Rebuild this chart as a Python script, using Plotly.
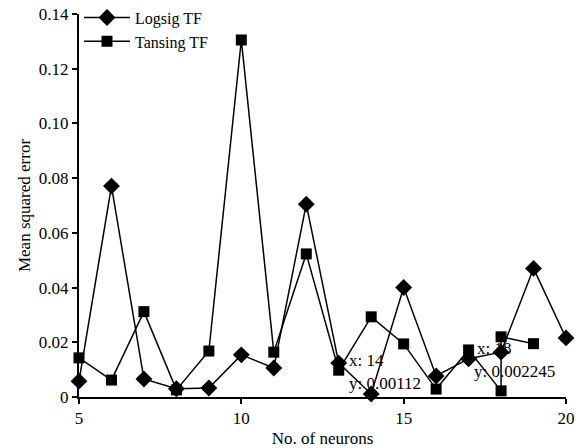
import plotly.graph_objects as go

neurons_logsig = [5, 6, 7, 8, 9, 10, 11, 12, 13, 14, 15, 16, 17, 18, 19, 20]
mse_logsig = [0.0058, 0.0771, 0.0066, 0.0030, 0.0033, 0.0154, 0.0106, 0.0705,
              0.0124, 0.00112, 0.0400, 0.0077, 0.0140, 0.0164, 0.0470, 0.0216]

neurons_tansing = [5, 6, 7, 8, 9, 10, 11, 12, 13, 14, 15, 16, 17, 18, 18, 19]
mse_tansing = [0.0143, 0.0062, 0.0312, 0.0026, 0.0168, 0.1305, 0.0164, 0.0523,
               0.0098, 0.0293, 0.0194, 0.0029, 0.0172, 0.002245, 0.0220, 0.0195]

y_ticks = [0, 0.02, 0.04, 0.06, 0.08, 0.10, 0.12, 0.14]
y_ticktext = ["0", "0.02", "0.04", "0.06", "0.08", "0.10", "0.12", "0.14"]
x_ticks = [5, 10, 15, 20]

font_family = "Liberation Serif"

fig = go.Figure()
fig.add_trace(go.Scatter(
    x=neurons_logsig, y=mse_logsig, mode="lines+markers", name="Logsig TF",
    line=dict(color="black", width=1.5),
    marker=dict(symbol="diamond", size=13, color="black"),
    cliponaxis=False,
))
fig.add_trace(go.Scatter(
    x=neurons_tansing, y=mse_tansing, mode="lines+markers", name="Tansing TF",
    line=dict(color="black", width=1.5),
    marker=dict(symbol="square", size=11, color="black"),
    cliponaxis=False,
))

annots = [
    dict(x=14, y=0.0132, text="x: 14", shift=-24),
    dict(x=14, y=0.0051, text="y: 0.00112", shift=-24),
    dict(x=18, y=0.0179, text="x: 18", shift=-26),
    dict(x=18, y=0.0095, text="y: 0.002245", shift=-29),
]
for a in annots:
    fig.add_annotation(x=a["x"], y=a["y"], text=a["text"], showarrow=False,
                       xanchor="left", yanchor="middle", xshift=a["shift"],
                       font=dict(family=font_family, size=17, color="black"))

fig.update_layout(
    width=581, height=448,
    margin=dict(l=79, r=15, t=14, b=51, autoexpand=False),
    plot_bgcolor="white", paper_bgcolor="white",
    font=dict(family=font_family, size=17, color="black"),
    showlegend=True,
    legend=dict(x=0.0, y=1.035, xanchor="left", yanchor="top",
                bgcolor="rgba(0,0,0,0)", font=dict(family=font_family, size=16),
                tracegroupgap=0, itemwidth=46),
    xaxis=dict(
        range=[5, 20], tickvals=x_ticks, showgrid=False, zeroline=False,
        showline=True, linecolor="black", linewidth=2,
        ticks="outside", ticklen=5, tickwidth=1.5, tickcolor="black",
        title=dict(text="No. of neurons", standoff=10,
                   font=dict(family=font_family, size=17)),
        tickfont=dict(family=font_family, size=17),
    ),
    yaxis=dict(
        range=[0, 0.14], tickvals=y_ticks, ticktext=y_ticktext,
        showgrid=False, zeroline=False,
        showline=True, linecolor="black", linewidth=2,
        ticks="outside", ticklen=5, tickwidth=1.5, tickcolor="black",
        title=dict(text="Mean squared error", standoff=4,
                   font=dict(family=font_family, size=17)),
        tickfont=dict(family=font_family, size=17),
    ),
)

fig.write_html("out.html")
